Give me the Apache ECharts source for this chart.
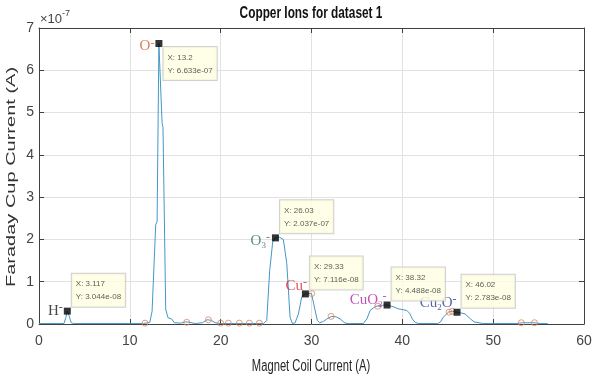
<!DOCTYPE html>
<html>
<head>
<meta charset="utf-8">
<script src="https://cdn.jsdelivr.net/npm/echarts@6/dist/echarts.min.js"></script>
<style>
  body { margin: 0; background: #fff; }
  #main { width: 601px; height: 381px; }
</style>
</head>
<body>
<div id="main"></div>
<script>
    // measured trace, x in A, y in units of 1e-7 A
    var curveX = [
      0, 2.75, 2.95, 3.117, 3.3, 3.55, 3.8, 11.5, 12.2, 12.45,
      12.85, 13.0, 13.2, 13.55, 13.65, 13.95, 14.2, 14.6, 14.9, 15.6,
      16.1, 16.6, 17.2, 18.0, 18.5, 18.9, 19.4, 20.0,
      24.7, 25.07, 25.4, 25.73, 26.03, 26.5, 26.9, 27.28, 27.64, 27.9,
      28.2, 28.56, 28.93, 29.33, 29.7, 30.0, 30.4, 30.65, 30.9, 31.3,
      31.7, 32.2, 32.7, 33.15, 33.7, 34.2, 35.7, 36.1, 36.45, 37.0,
      37.5, 38.32, 39.0, 39.55, 40.5, 40.84, 41.1, 41.4, 41.8, 43.9,
      44.2, 44.5, 45.07, 45.5, 46.02, 46.9, 47.5, 47.9, 48.9, 52.5,
      53.2, 54.5, 55.2, 56.0
    ];
    var curveY = [
      0.01, 0.01, 0.15, 0.3044, 0.2, 0.03, 0.01, 0.01, 0.04, 0.3,
      2.35, 2.42, 6.633, 4.75, 4.65, 0.35, 0.15, 0.12, 0.03, 0.02,
      0.05, 0.04, 0.01, 0.03, 0.1, 0.09, 0.03, 0.01,
      0.01, 0.08, 1.27, 1.94, 2.037, 2.05, 2.0, 1.43, 0.16, 0.01,
      0.03, 0.24, 0.64, 0.7116, 0.72, 0.72, 0.32, 0.08, 0.03, 0.06,
      0.12, 0.18, 0.17, 0.12, 0.02, 0.01, 0.01, 0.12, 0.32, 0.41,
      0.44, 0.4488, 0.41, 0.36, 0.32, 0.24, 0.12, 0.04, 0.01, 0.01,
      0.05, 0.16, 0.28, 0.3, 0.2783, 0.24, 0.12, 0.05, 0.01, 0.01,
      0.03, 0.03, 0.01, 0.01
    ];

    // found peaks (hollow circles)
    var circleX = [11.67, 16.26, 18.65, 20.0, 20.85, 22.06, 23.16, 24.26, 30.03, 32.16, 37.3, 45.15, 45.5, 53.1, 54.55];
    var circleY = [0.02, 0.04, 0.1, 0.02, 0.02, 0.02, 0.02, 0.02, 0.72, 0.18, 0.42, 0.28, 0.3, 0.03, 0.03];

    // data tips
    var peakX = [3.117, 13.2, 26.03, 29.33, 38.32, 46.02];
    var peakY = [0.3044, 6.633, 2.037, 0.7116, 0.4488, 0.2783];
    // ion names as rich text: base, subscript, superscript
    var ionNames = [
      '{b|H}{sup|-}',
      '{b|O}{sup|-}',
      '{b|O}{sub|3}{sup|-}',
      '{b|Cu}{sup|-}',
      '{b|CuO}{sub|2}{sup|-}',
      '{b|Cu}{sub|2}{b|O}{sup|-}'
    ];

    // styling for the tips / ion labels
    var tipBelow = [false, true, false, false, false, false];
    var ionColors = ['#1a1a1a', '#d0622e', '#2f6f66', '#d3243c', '#b427b0', '#2b3a8e'];
    var ionOffsets = [[4, 0], [4, 3], [3, 3], [10, -8], [8, -5], [8, -9]];

    var font = '"Liberation Sans", Arial, sans-serif';
    var serif = '"Liberation Serif", "DejaVu Serif", serif';

    initChart();

    function fmtExp(v) {
      var s = (v * 1e-7).toExponential(3);
      return s.replace(/e([+-])(\d)$/, 'e$10$2');
    }

    function initChart() {
      var chartDom = document.getElementById('main');
      var myChart = echarts.init(chartDom);

      var curve = curveX.map(function (x, i) { return [x, curveY[i]]; });
      var circles = circleX.map(function (x, i) { return [x, circleY[i]]; });

      var tips = peakX.map(function (x, i) {
        return {
          value: [x, peakY[i]],
          label: tipBelow[i]
            ? { position: [8, 7], verticalAlign: 'top' }
            : { position: [8, -1], verticalAlign: 'bottom' }
        };
      });

      var ions = peakX.map(function (x, i) {
        return {
          value: [x, peakY[i]],
          label: { color: ionColors[i], offset: ionOffsets[i] }
        };
      });

      var axisCommon = {
        type: 'value',
        axisLine: { show: true, onZero: false, lineStyle: { color: '#404040', width: 1 } },
        axisTick: { show: true, inside: true, length: 5, lineStyle: { color: '#404040' } }
      };

      var option = {
        animation: false,
        backgroundColor: '#fff',
        grid: { left: 39, right: 17, top: 28, bottom: 57 },
        xAxis: [
          Object.assign({}, axisCommon, {
            min: 0, max: 60, interval: 10, position: 'bottom',
            axisLabel: { margin: 10, fontSize: 14, color: '#444', fontFamily: font },
            splitLine: { show: true, lineStyle: { color: '#e2e2e2' } }
          }),
          Object.assign({}, axisCommon, {
            min: 0, max: 60, interval: 10, position: 'top',
            axisLabel: { show: false }, splitLine: { show: false }
          })
        ],
        yAxis: [
          Object.assign({}, axisCommon, {
            min: 0, max: 7, interval: 1, position: 'left',
            axisLabel: { margin: 5, fontSize: 14, color: '#444', fontFamily: font },
            splitLine: { show: true, lineStyle: { color: '#e2e2e2' } }
          }),
          Object.assign({}, axisCommon, {
            min: 0, max: 7, interval: 1, position: 'right',
            axisLabel: { show: false }, splitLine: { show: false }
          })
        ],
        graphic: [
          {
            type: 'text', x: 311, y: 14, scaleX: 0.74,
            style: {
              text: 'Copper Ions for dataset 1', font: 'bold 16px ' + font, fill: '#111',
              textAlign: 'center', textVerticalAlign: 'middle', align: 'center', verticalAlign: 'middle'
            }
          },
          {
            type: 'text', x: 311, y: 367, scaleX: 0.7,
            style: {
              text: 'Magnet Coil Current (A)', font: '16px ' + font, fill: '#262626',
              textAlign: 'center', textVerticalAlign: 'middle', align: 'center', verticalAlign: 'middle'
            }
          },
          {
            type: 'text', x: 11, y: 177, rotation: Math.PI / 2, scaleY: 0.68,
            style: {
              text: 'Faraday Cup Current (A)', font: '20px ' + font, fill: '#333',
              textAlign: 'center', textVerticalAlign: 'middle', align: 'center', verticalAlign: 'middle'
            }
          },
          {
            type: 'text', x: 40, y: 19,
            style: {
              text: '\u00D710', font: '13px ' + font, fill: '#444',
              textAlign: 'left', textVerticalAlign: 'middle', align: 'left', verticalAlign: 'middle'
            }
          },
          {
            type: 'text', x: 62, y: 14,
            style: {
              text: '-7', font: '9px ' + font, fill: '#444',
              textAlign: 'left', textVerticalAlign: 'middle', align: 'left', verticalAlign: 'middle'
            }
          }
        ],
        series: [
          {
            name: 'Faraday cup',
            type: 'line',
            data: curve,
            symbol: 'none',
            z: 2,
            lineStyle: { width: 1, color: '#4497c4' }
          },
          {
            name: 'peaks',
            type: 'scatter',
            data: circles,
            symbol: 'circle',
            symbolSize: 6,
            z: 3,
            itemStyle: { color: 'rgba(0,0,0,0)', borderColor: '#e3825a', borderWidth: 1 }
          },
          {
            name: 'ions',
            type: 'scatter',
            data: ions,
            symbol: 'rect',
            symbolSize: 7,
            z: 4,
            silent: true,
            itemStyle: { color: 'rgba(0,0,0,0)' },
            label: {
              show: true,
              position: 'left',
              distance: 5,
              fontFamily: serif,
              formatter: function (p) { return ionNames[p.dataIndex]; },
              rich: {
                b: { fontFamily: serif, fontSize: 15, lineHeight: 18 },
                sub: { fontFamily: serif, fontSize: 9, lineHeight: 8, verticalAlign: 'bottom' },
                sup: { fontFamily: serif, fontSize: 12, lineHeight: 4, verticalAlign: 'top' }
              }
            }
          },
          {
            name: 'tips',
            type: 'scatter',
            data: tips,
            symbol: 'rect',
            symbolSize: 7,
            z: 5,
            itemStyle: { color: '#000' },
            label: {
              show: true,
              align: 'left',
              fontFamily: font,
              fontSize: 8,
              lineHeight: 13,
              color: '#333',
              backgroundColor: '#ffffe1',
              borderColor: '#c4c4c4',
              borderWidth: 1,
              padding: [4, 4, 3, 4],
              formatter: function (p) {
                var i = p.dataIndex;
                return 'X: ' + peakX[i] + '\nY: ' + fmtExp(peakY[i]);
              }
            }
          }
        ]
      };

      option && myChart.setOption(option);
    }
</script>
</body>
</html>
